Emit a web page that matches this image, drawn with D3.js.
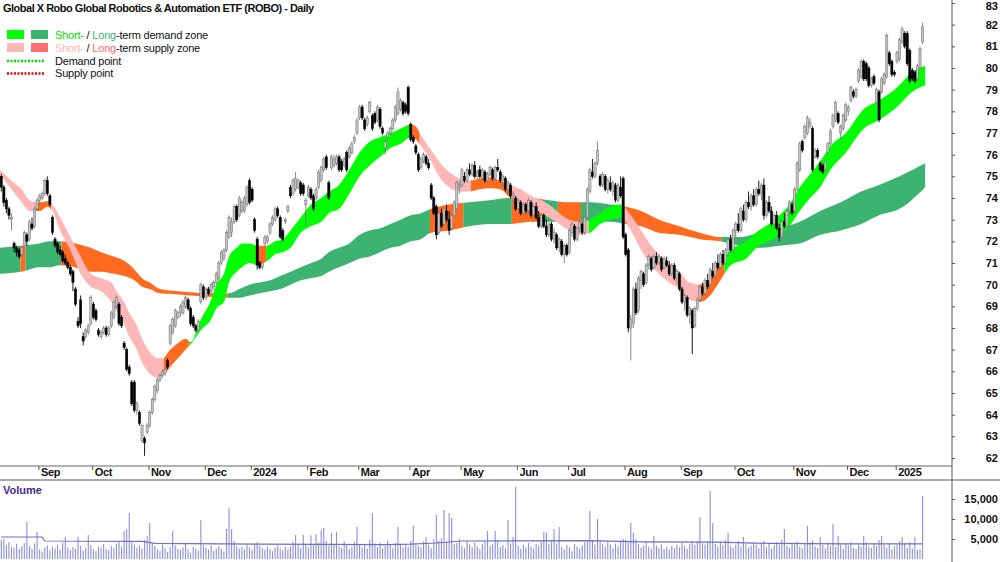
<!DOCTYPE html>
<html>
<head>
<meta charset="utf-8">
<script src="https://cdn.jsdelivr.net/npm/d3@7"></script>
<style>
  body { margin: 0; background: #fff; }
  svg { display: block; }
  text { font-family: "Liberation Sans", Arial, sans-serif; }
</style>
</head>
<body>
<svg id="chart" width="1000" height="562"></svg>
<script>
// ROBO daily candles, Aug 2023 - Jan 2025, one row per session: [open, high, low, close]
const candles = [
  [75.0,75.1,74.3,74.5],[74.5,74.6,73.6,73.8],[73.9,74.0,73.3,73.5],[73.5,73.6,73.0,73.2],[73.0,73.3,72.5,73.1],
  [71.9,72.0,71.5,71.7],[71.7,71.8,71.3,71.5],[71.6,71.7,71.2,71.3],[71.4,71.8,71.3,71.7],[71.8,72.5,71.7,72.4],
  [72.3,72.4,71.8,72.0],[72.1,73.0,72.0,72.9],[72.8,73.1,72.5,72.6],[72.7,73.6,72.6,73.5],[73.5,74.0,73.4,73.9],
  [73.9,74.2,73.7,74.1],[74.0,74.3,73.9,74.2],[74.2,74.9,74.1,74.8],[74.8,75.0,74.1,74.2],[74.1,74.2,73.6,73.7],
  [73.1,73.2,72.3,72.4],[72.1,72.2,71.7,71.8],[71.9,72.0,71.4,71.5],[71.6,71.8,71.3,71.4],[71.5,71.6,71.0,71.1],
  [71.2,71.4,70.9,71.0],[71.0,71.1,70.7,70.8],[70.8,70.9,70.4,70.5],[70.6,70.7,69.7,70.1],[69.8,69.9,69.0,69.1],
  [68.3,68.5,68.0,68.1],[69.3,69.5,68.0,68.2],[67.6,67.8,67.2,67.4],[67.6,68.0,67.5,67.9],[67.8,68.2,67.7,68.1],
  [68.2,69.5,68.1,69.4],[69.1,69.2,68.4,68.5],[68.8,68.9,68.3,68.4],[67.9,68.0,67.6,67.7],[67.6,67.9,67.5,67.8],
  [67.8,68.1,67.7,68.0],[68.0,68.1,67.6,67.7],[67.7,68.1,67.6,68.0],[68.1,68.8,68.0,68.7],[68.5,69.3,68.4,69.2],
  [69.0,69.5,68.9,69.4],[69.1,69.2,68.1,68.2],[68.5,68.6,68.0,68.1],[67.3,67.4,67.0,67.1],[67.0,67.1,66.0,66.1],
  [66.2,66.3,65.8,65.9],[65.5,65.6,64.4,64.5],[65.5,65.6,64.1,64.2],[64.2,64.6,64.0,64.5],[64.1,64.2,63.5,63.6],
  [62.8,63.6,62.7,63.5],[62.9,63.0,62.1,62.7],[63.2,63.6,63.1,63.5],[63.5,64.2,63.4,64.1],[64.1,64.8,64.0,64.7],
  [64.7,65.4,64.6,65.3],[65.1,65.7,65.0,65.6],[65.6,65.9,65.5,65.8],[65.8,66.1,65.7,66.0],[65.9,66.2,65.8,66.1],
  [66.5,66.6,66.1,66.2],[67.3,68.2,67.2,68.1],[67.8,68.5,67.7,68.4],[68.1,68.9,68.0,68.8],[68.5,68.8,68.4,68.7],
  [68.7,69.1,68.5,69.0],[68.7,69.3,68.6,69.2],[69.0,69.5,68.9,69.4],[69.3,69.4,68.8,68.9],[68.9,69.0,68.1,68.2],
  [68.5,68.6,68.0,68.1],[68.1,68.2,67.8,67.9],[67.9,68.4,67.8,68.3],[69.2,70.1,69.1,70.0],[69.9,70.0,69.3,69.4],
  [69.4,69.9,69.3,69.8],[69.8,69.9,69.5,69.6],[69.7,70.1,69.6,70.0],[69.9,70.2,69.8,70.1],[70.1,70.6,70.0,70.5],
  [70.3,71.1,70.2,71.0],[71.0,71.6,70.9,71.5],[71.2,71.7,71.1,71.6],[71.6,72.5,71.5,72.4],[72.2,73.2,72.1,73.1],
  [72.4,73.1,72.2,72.9],[72.9,73.7,72.8,73.6],[73.6,73.7,72.9,73.0],[73.2,74.1,73.1,74.0],[73.4,73.9,73.3,73.8],
  [73.4,74.1,73.3,74.0],[73.7,74.6,73.6,74.5],[74.8,74.9,73.7,73.8],[74.4,74.5,73.8,73.9],[73.0,73.1,72.4,72.5],
  [72.1,72.2,70.7,70.9],[71.0,71.1,70.7,70.8],[70.8,71.1,70.7,71.0],[71.9,72.3,71.8,72.2],[72.0,72.3,71.9,72.2],
  [72.4,72.9,72.3,72.8],[72.8,73.2,72.7,73.1],[73.0,73.6,72.9,73.5],[73.5,73.6,73.1,73.2],[73.1,73.2,72.1,72.2],
  [72.5,72.6,72.0,72.1],[72.9,73.1,72.8,73.0],[73.4,73.7,73.3,73.6],[74.5,74.6,74.0,74.1],[74.2,74.9,74.1,74.8],
  [74.4,75.2,74.3,74.9],[74.5,74.9,74.4,74.8],[74.7,74.8,74.1,74.2],[74.6,74.7,74.1,74.2],[73.7,74.0,72.7,73.9],
  [74.1,74.6,74.0,74.5],[74.4,74.5,73.9,74.0],[74.1,74.2,73.4,73.5],[74.0,74.5,73.9,74.4],[74.5,75.3,74.4,75.2],
  [74.8,75.5,74.7,75.4],[75.3,75.9,75.2,75.8],[75.9,76.0,75.3,75.4],[74.7,74.8,73.9,74.0],[75.4,76.0,75.3,75.9],
  [75.5,76.0,75.4,75.8],[75.6,76.0,75.5,75.9],[75.9,76.0,75.2,75.3],[75.7,75.8,75.2,75.3],[75.5,75.9,75.4,75.8],
  [76.1,76.2,75.2,75.3],[75.9,76.4,75.8,76.3],[76.1,76.6,76.0,76.5],[76.6,76.9,76.5,76.8],[77.0,77.7,76.9,77.6],
  [77.7,78.3,77.6,78.2],[78.2,78.3,77.6,77.7],[77.6,77.7,77.1,77.2],[77.4,77.8,77.3,77.7],[78.0,78.5,77.9,78.4],
  [77.8,77.9,77.1,77.2],[77.9,78.0,77.4,77.5],[77.6,78.3,77.5,78.2],[78.1,78.2,77.2,77.3],[77.2,77.3,76.9,77.0],
  [76.3,76.7,76.0,76.6],[76.8,77.1,76.7,77.0],[77.0,77.3,76.9,77.2],[77.2,77.7,77.1,77.6],[77.6,78.3,77.5,78.2],
  [77.9,79.1,77.8,78.9],[78.1,78.6,78.0,78.5],[78.4,78.5,77.8,77.9],[78.3,78.4,77.9,78.0],[79.1,79.2,77.8,77.9],
  [77.4,77.5,76.6,76.7],[76.8,76.9,76.5,76.6],[76.4,76.5,76.0,76.1],[76.0,76.1,75.2,75.3],[75.4,75.9,75.3,75.8],
  [75.7,76.1,75.6,76.0],[75.9,76.0,75.5,75.6],[75.6,75.8,75.3,75.4],[74.6,74.7,73.9,74.0],[74.0,74.1,73.2,73.3],
  [73.6,73.7,72.1,72.3],[72.4,73.4,72.3,73.3],[73.3,73.5,72.6,72.7],[72.8,73.6,72.7,73.5],[73.4,73.7,72.9,73.0],
  [73.0,73.4,72.3,72.5],[72.6,73.3,72.5,73.2],[73.2,73.9,73.1,73.8],[73.5,74.8,73.4,74.7],[74.5,74.8,74.2,74.6],
  [74.6,75.4,74.5,75.3],[75.0,75.2,74.7,74.8],[74.8,75.4,74.7,75.3],[75.3,75.6,75.0,75.1],[75.1,75.6,75.0,75.5],
  [75.5,75.7,74.9,75.0],[75.0,75.3,74.8,75.2],[75.3,75.5,74.9,75.0],[74.9,75.4,74.8,75.3],[75.2,75.3,74.7,74.8],
  [74.8,75.2,74.6,75.1],[75.1,75.5,75.0,75.4],[75.3,75.4,74.8,74.9],[74.9,75.5,74.8,75.4],[75.4,75.8,75.2,75.3],
  [75.2,75.3,74.7,74.8],[74.8,75.1,74.5,75.0],[74.9,75.0,74.3,74.4],[74.4,74.8,74.2,74.7],[74.6,74.7,74.0,74.1],
  [74.1,74.3,73.8,74.2],[74.0,74.1,73.4,73.5],[73.5,74.0,73.4,73.9],[73.8,73.9,73.2,73.3],[73.3,73.8,73.2,73.7],
  [73.7,73.8,73.3,73.4],[73.4,74.0,73.3,73.9],[73.8,73.9,73.1,73.2],[73.2,73.7,73.1,73.6],[73.6,73.8,73.0,73.1],
  [73.1,73.4,72.6,72.7],[72.7,73.3,72.6,73.2],[73.2,73.3,72.6,72.7],[72.7,73.0,72.2,72.3],[72.3,72.9,72.2,72.8],
  [72.8,72.9,72.0,72.1],[72.1,72.6,71.9,72.4],[72.3,72.4,71.6,71.7],[71.7,72.2,71.5,72.1],[72.0,72.1,71.3,71.4],
  [71.4,71.9,71.0,71.8],[71.8,71.9,71.3,71.4],[71.5,72.6,71.4,72.5],[72.4,72.9,72.2,72.8],[72.7,72.8,72.0,72.1],
  [72.1,72.7,72.0,72.6],[72.6,73.0,72.4,72.9],[72.8,72.9,72.3,72.4],[72.4,73.2,72.3,73.1],[73.1,74.5,73.0,74.4],
  [74.3,75.4,74.2,75.3],[75.2,75.8,74.9,75.0],[75.0,75.7,74.9,75.6],[75.6,76.6,75.5,76.2],[75.0,75.1,74.5,74.6],
  [74.6,75.2,74.5,75.1],[75.0,75.1,74.3,74.4],[74.4,74.9,74.2,74.8],[74.7,75.0,74.3,74.4],[74.3,74.8,74.1,74.7],
  [74.6,74.7,73.8,73.9],[73.9,74.7,73.8,74.6],[74.5,75.0,74.0,74.1],[74.9,75.0,72.1,72.2],[72.3,72.4,71.3,71.4],
  [71.6,71.7,67.8,68.0],[68.0,68.6,66.5,68.4],[68.2,69.9,68.0,69.8],[69.8,70.1,68.6,68.7],[68.8,70.4,68.7,70.3],
  [70.2,70.7,69.8,70.6],[70.5,70.6,69.9,70.0],[70.1,71.0,70.0,70.9],[70.9,71.4,70.7,71.3],[71.2,71.3,70.6,70.7],
  [70.8,71.4,70.7,71.3],[71.3,71.5,70.9,71.0],[71.0,71.4,70.9,71.3],[71.2,71.3,70.6,70.7],[70.8,71.3,70.7,71.2],
  [71.1,71.3,70.8,70.9],[70.9,71.1,70.4,70.5],[70.5,71.0,70.4,70.9],[70.9,71.0,70.2,70.3],[70.3,70.7,70.0,70.6],
  [70.5,70.6,69.7,69.8],[69.8,69.9,69.1,69.2],[69.2,69.6,68.8,69.5],[69.4,69.5,68.5,68.6],[68.6,69.0,68.2,68.9],
  [68.8,68.9,66.8,68.0],[68.1,69.0,68.0,68.9],[68.9,69.4,68.8,69.3],[69.3,70.0,69.2,69.9],[69.9,70.1,69.5,69.6],
  [69.6,70.3,69.5,70.2],[70.2,70.5,69.8,69.9],[70.0,70.8,69.9,70.7],[70.6,71.0,70.3,70.4],[70.4,71.1,70.3,71.0],
  [71.0,71.4,70.7,70.8],[70.8,71.5,70.7,71.4],[71.4,71.6,70.9,71.0],[71.0,71.7,70.9,71.6],[71.6,72.2,71.4,72.1],
  [72.1,72.3,71.5,71.6],[71.6,72.6,71.5,72.5],[72.5,72.9,72.2,72.8],[72.8,73.3,72.4,72.5],[72.5,73.6,72.4,73.5],
  [73.4,73.7,72.9,73.0],[73.0,73.9,72.9,73.8],[73.8,74.3,73.5,73.6],[73.6,74.2,73.4,74.1],[74.1,74.4,73.6,73.7],
  [73.7,74.5,73.6,74.4],[74.4,74.8,74.1,74.2],[74.2,74.7,73.9,74.6],[74.6,74.9,73.0,73.2],[73.2,73.9,73.1,73.8],
  [73.8,74.1,73.3,73.4],[73.4,73.6,72.7,72.8],[72.8,73.3,72.6,73.2],[73.2,73.4,72.5,72.6],[72.6,72.8,72.0,72.2],
  [72.2,73.0,72.1,72.9],[72.9,73.3,72.6,72.7],[72.7,73.5,72.6,73.4],[73.4,73.9,73.2,73.8],[73.7,73.8,73.2,73.3],
  [73.4,74.5,73.3,74.4],[74.4,75.7,74.3,75.6],[75.3,76.6,75.2,76.5],[76.6,76.7,76.1,76.2],[76.8,77.4,76.7,77.3],
  [77.0,77.8,76.9,77.7],[77.3,77.7,77.2,77.5],[77.2,77.3,75.2,75.3],[75.9,76.3,75.8,76.2],[76.2,76.3,75.8,75.9],
  [75.6,75.7,75.2,75.3],[75.5,75.6,75.1,75.2],[75.3,75.8,75.2,75.7],[76.1,76.6,76.0,76.5],[76.5,77.2,76.4,77.1],
  [77.3,77.9,77.2,77.8],[77.6,78.5,77.5,78.4],[77.9,78.0,77.4,77.5],[77.0,77.4,76.7,77.3],[77.2,77.9,77.1,77.8],
  [77.6,78.4,77.5,78.3],[78.0,78.3,77.8,78.2],[78.5,79.2,78.4,79.1],[78.9,79.0,78.6,78.7],[78.7,79.1,78.6,79.0],
  [79.4,80.0,79.3,79.9],[79.6,80.4,79.5,80.3],[80.3,80.4,79.4,79.5],[80.2,80.3,79.4,79.5],[80.0,80.1,79.1,79.2],
  [79.2,79.6,79.1,79.5],[79.6,79.7,79.2,79.3],[78.4,79.1,78.3,79.0],[78.9,79.0,77.5,77.6],[78.9,79.6,78.8,79.5],
  [79.3,79.8,79.2,79.7],[79.6,81.6,79.5,81.5],[80.7,80.8,80.1,80.2],[80.3,80.4,79.6,79.7],[79.8,79.9,79.6,79.7],
  [80.3,80.8,80.2,80.7],[80.4,81.4,80.3,81.3],[81.2,81.9,81.1,81.8],[81.6,81.7,80.9,81.0],[81.6,81.7,80.1,80.2],
  [80.8,80.9,79.3,79.4],[79.9,80.0,79.4,79.5],[79.8,79.9,79.3,79.4],[79.5,80.2,79.4,80.1],[80.0,81.0,79.9,80.9],
  [81.2,82.1,81.1,81.9]
];

// daily volume
const volumes = [
  4800,5000,3500,4200,3000,2800,3800,2500,3200,4000,9250,3300,2600,3900,6800,2400,1800,2900,3400,2200,
  3100,2700,3600,2300,4100,5500,2900,2200,3000,2600,5500,3300,2100,2800,6000,3500,2400,1900,3100,2700,
  3700,2500,2200,3300,2800,3900,4400,3100,7000,7500,11500,4200,3600,2800,3400,2600,4800,5800,9000,3900,
  3300,2400,2000,3600,2700,1800,3000,7000,3400,2500,2200,2900,3800,2400,1600,3100,2600,2100,9750,3500,
  2800,2300,3400,2000,2700,3200,2500,1900,7500,12750,7500,4500,3300,2600,3000,2400,3500,2900,2200,3600,
  4200,3300,2700,2300,3100,2500,2000,2800,3400,2600,2200,3000,2400,3200,4300,6000,3500,2800,6000,3700,
  2900,5900,3400,6200,4100,7200,7800,4500,3300,6500,3800,6800,3200,2700,4400,3600,2500,3100,4200,8000,
  3400,2900,3700,2600,4800,11500,3900,3000,4100,2700,3300,4600,3600,2800,4000,8000,3500,2900,3700,3100,
  4500,8300,3800,3200,2900,4400,5500,3600,2700,4900,11000,4600,5200,12250,4300,11500,10250,3800,4000,5000,
  3300,2700,4400,3600,2900,4100,3100,2500,3800,4400,7000,3200,3700,7000,4600,3000,3500,2800,9750,3900,
  5500,18000,3300,2500,3600,2900,4000,3100,2600,3800,3300,4200,6800,6600,3700,4400,7500,3900,8000,3000,
  2400,3500,2900,2000,3800,3100,2600,3400,4200,4800,12000,4500,3600,10000,4700,3800,3000,4300,3600,2700,
  3900,3200,4600,5000,4800,4200,9000,6600,4900,3800,2900,3400,4300,3100,2600,5800,3400,2800,3700,2500,
  3000,2400,3300,2700,3600,2900,4100,3200,2500,3800,4500,3500,4300,10500,3900,3600,4400,17000,9000,3800,
  3100,4200,3500,4700,6600,3400,2800,3600,4500,3100,5500,3700,2900,3300,4100,3600,2700,3900,4500,3000,
  3800,2600,3400,4200,3600,4800,7500,3300,2900,4000,3600,4400,3100,2700,3700,8300,4100,4600,3200,2800,
  5500,3500,2700,4100,3300,8800,3000,5800,3600,2600,3900,3400,4300,2800,2500,3600,3000,5800,4200,3100,
  2700,3800,3300,4700,5800,3500,2800,4000,2400,3200,3600,4400,5500,3900,2800,4200,2600,5400,2300,2500,
  15750
];

// volume average line, [session index, value]
const volumeAverage = [
  [0,5500],[16,5500],[17,4500],[55,4400],[60,3900],[100,3700],[150,3600],[160,3700],
  [170,4000],[180,4500],[230,4600],[250,4300],[280,4200],[300,3900],[330,3800],[360,3800]
];

// zone bands: [session index, upper price, lower price]
const shortBand = [
  [-0.5,75.3,75.1],[4,74.8,74.4],[8,74.4,73.8],[11,73.9,73.4],[15,73.8,73.4],[18,73.85,73.6],[20,73.7,73.4],
  [23,73.1,72.5],[27,72.2,71.6],[31,71.3,70.5],[35,70.5,69.9],[39,70.3,69.7],[43,70.1,69.2],[45,69.7,68.8],
  [48,69.2,68.2],[50,68.7,67.6],[53,68.1,67.0],[55,67.5,66.4],[58,66.9,65.9],[61,66.6,65.7],[63,66.6,65.8],
  [66,67.0,66.2],[69,67.3,66.6],[72,67.5,67.0],[74,67.35,67.25],[78,68.4,67.9],[82,69.3,68.4],[84,70.0,68.9],
  [87,70.5,69.2],[89,71.3,70.1],[92,71.7,70.6],[94,71.9,70.8],[97,71.9,71.0],[100,71.8,70.9],[104,71.8,71.1],
  [107,72.0,71.4],[110,72.1,71.5],[113,72.5,71.7],[117,73.1,72.4],[121,73.7,72.7],[125,74.0,72.9],[128,74.3,73.3],
  [132,74.6,73.5],[136,75.3,74.2],[140,76.1,75.0],[144,76.6,75.5],[148,76.8,75.9],[152,77.0,76.3],[156,77.2,76.5],
  [160,77.4,76.8],[162,77.3,76.7],[164,76.9,76.4],[168,76.2,75.7],[171,75.7,75.0],[175,75.2,74.5],[179,74.9,74.3],
  [183,74.8,74.3],[187,74.9,74.4],[191,74.95,74.45],[195,74.8,74.4],[199,74.6,74.0],[203,74.4,73.7],[207,74.1,73.4],
  [211,73.9,73.3],[214,73.7,73.1],[218,73.3,72.8],[222,73.0,72.5],[226,72.9,72.3],[230,73.0,72.4],[234,73.3,72.8],
  [238,73.6,73.0],[242,73.7,73.1],[246,73.2,72.5],[250,72.5,71.6],[254,71.8,70.9],[257,71.4,70.5],[261,71.0,70.1],
  [265,70.6,69.8],[269,70.1,69.3],[273,70.0,69.2],[277,70.3,69.5],[281,71.0,70.2],[285,71.6,70.9],[291,72.0,71.2],
  [296,72.5,71.8],[300,72.8,72.0],[304,73.2,72.3],[308,73.7,72.7],[312,74.5,73.4],[316,75.1,74.0],[320,75.7,74.5],
  [324,76.4,75.3],[330,77.0,76.1],[337,78.1,77.2],[343,78.5,77.6],[350,79.1,78.2],[356,79.8,78.9],[361,80.1,79.2]
];
const longBand = [
  [-0.5,71.7,70.5],[8,71.8,70.6],[15,71.9,70.8],[19,72.0,70.8],[23,72.0,70.9],[27,71.95,70.85],[35,71.7,70.6],
  [39,71.5,70.6],[44,71.3,70.5],[48,71.1,70.4],[52,70.7,70.2],[55,70.3,69.9],[58,70.1,69.8],[62,69.8,69.6],
  [69,69.7,69.55],[74,69.65,69.5],[80,69.6,69.45],[89,69.6,69.4],[93,69.8,69.4],[97,70.0,69.5],[101,70.1,69.6],
  [105,70.2,69.7],[109,70.4,69.8],[113,70.6,70.0],[117,70.8,70.2],[121,71.0,70.3],[125,71.2,70.4],[128,71.5,70.6],
  [132,71.7,70.8],[136,71.9,71.0],[140,72.3,71.2],[144,72.5,71.3],[148,72.6,71.5],[152,72.8,71.7],[156,73.0,71.8],
  [160,73.2,72.0],[164,73.3,72.1],[168,73.5,72.4],[175,73.7,72.5],[183,73.8,72.7],[191,73.9,72.8],[199,74.0,72.8],
  [207,74.0,72.9],[214,73.9,72.9],[222,73.8,72.9],[230,73.8,72.9],[238,73.7,72.9],[244,73.6,72.8],[250,73.4,72.7],
  [257,73.0,72.4],[265,72.7,72.3],[273,72.4,72.1],[281,72.2,72.0],[289,72.2,71.8],[296,72.4,71.7],[304,72.6,71.8],
  [312,72.9,71.9],[320,73.4,72.3],[328,73.8,72.5],[336,74.3,72.8],[343,74.6,73.2],[351,75.0,73.5],[361,75.6,74.5]
];

// zone colouring by session range: [from, to, state]
const shortZones = [
  [-1,14,"supply"],[14,20,"turn"],[20,64,"supply"],[64,74,"turn"],[74,100,"demand"],[100,104,"turn"],
  [104,160,"demand"],[160,164,"turn"],[164,184,"supply"],[184,200,"turn"],[200,230,"supply"],[230,244,"demand"],
  [244,273,"supply"],[273,283,"turn"],[283,362,"demand"]
];
const longZones = [
  [-1,8,"demand"],[8,10,"supply"],[10,24,"demand"],[24,89,"supply"],[89,168,"demand"],[168,181,"supply"],
  [181,200,"demand"],[200,212,"supply"],[212,218,"demand"],[218,227,"supply"],[227,244,"demand"],
  [244,282,"supply"],[282,362,"demand"]
];

const priceTicks = [62,63,64,65,66,67,68,69,70,71,72,73,74,75,76,77,78,79,80,81,82,83];
const volumeTicks = [5000,10000,15000];
const monthLabels = ["Sep","Oct","Nov","Dec","2024","Feb","Mar","Apr","May","Jun","Jul","Aug","Sep","Oct","Nov","Dec","2025"];
const monthStarts = [15,36,58,80,98,120,140,160,180,202,222,244,266,287,310,331,350];

const shortColors = { demand: "#00ff00", supply: "#ffb6b6", turn: "#ff6a1f" };
const longColors = { demand: "#3cb371", supply: "#ff6a1f" };

const svg = d3.select("#chart");
const W = 1000, axisX = 952, priceBottom = 466, dateBottom = 480;

const x = d3.scaleLinear().domain([-0.5, 371.5]).range([0, axisX]);
const y = d3.scaleLinear().domain([62, 83]).range([458, 3]);
const yv = d3.scaleLinear().domain([0, 20000]).range([559, 479]);

const defs = svg.append("defs");
defs.append("clipPath").attr("id", "priceClip")
  .append("rect").attr("x", 0).attr("y", 0).attr("width", axisX).attr("height", priceBottom);

const price = svg.append("g").attr("clip-path", "url(#priceClip)");

// bands, each zone is the whole band clipped to its range
function drawBand(rows, zones, colors, name) {
  const area = d3.area()
    .x(d => x(d[0]))
    .y0(d => y(d[2]))
    .y1(d => y(d[1]))
    .curve(d3.curveMonotoneX);
  zones.forEach((z, k) => {
    const id = name + k;
    defs.append("clipPath").attr("id", id)
      .append("rect")
      .attr("x", x(z[0] - 0.5)).attr("y", 0)
      .attr("width", x(z[1] - 0.5) - x(z[0] - 0.5)).attr("height", priceBottom);
    price.append("path")
      .datum(rows)
      .attr("d", area)
      .attr("fill", colors[z[2]])
      .attr("clip-path", "url(#" + id + ")");
  });
}
drawBand(longBand, longZones, longColors, "lz");
drawBand(shortBand, shortZones, shortColors, "sz");

// candles
const candleG = price.append("g");
candleG.selectAll("line")
  .data(candles)
  .enter().append("line")
  .attr("x1", (d, i) => x(i)).attr("x2", (d, i) => x(i))
  .attr("y1", d => y(d[1])).attr("y2", d => y(d[2]))
  .attr("stroke", d => d[3] >= d[0] ? "#7a7a7a" : "#000")
  .attr("stroke-width", 0.9);
candleG.selectAll("rect")
  .data(candles)
  .enter().append("rect")
  .attr("x", (d, i) => x(i) - 1.1)
  .attr("width", 2.2)
  .attr("y", d => y(Math.max(d[0], d[3])))
  .attr("height", d => Math.max(1, Math.abs(y(d[0]) - y(d[3]))))
  .attr("fill", d => d[3] >= d[0] ? "#c4c4c4" : "#000")
  .attr("stroke", d => d[3] >= d[0] ? "#6e6e6e" : "#000")
  .attr("stroke-width", 0.5);

// volume
svg.append("g").selectAll("rect")
  .data(volumes)
  .enter().append("rect")
  .attr("x", (d, i) => x(i) - 0.55)
  .attr("width", 1.1)
  .attr("y", d => yv(d))
  .attr("height", d => yv(0) - yv(d))
  .attr("fill", "#8f8fd6");

svg.append("path")
  .datum(volumeAverage)
  .attr("d", d3.line().x(d => x(d[0])).y(d => yv(d[1])))
  .attr("fill", "none")
  .attr("stroke", "#6f6fc4")
  .attr("stroke-width", 1.2);

// frame lines
svg.append("line").attr("x1", 0).attr("x2", axisX).attr("y1", priceBottom).attr("y2", priceBottom)
  .attr("stroke", "#666").attr("stroke-width", 1);
svg.append("line").attr("x1", 0).attr("x2", W).attr("y1", dateBottom).attr("y2", dateBottom)
  .attr("stroke", "#555").attr("stroke-width", 1.2);
svg.append("line").attr("x1", axisX).attr("x2", axisX).attr("y1", 0).attr("y2", 562)
  .attr("stroke", "#555").attr("stroke-width", 1);

// price axis
const yAxis = svg.append("g")
  .attr("transform", "translate(" + axisX + ",0)")
  .call(d3.axisRight(y).tickValues(priceTicks).tickSize(3).tickFormat(d3.format("d")));
yAxis.select(".domain").remove();

const vAxis = svg.append("g")
  .attr("transform", "translate(" + axisX + ",0)")
  .call(d3.axisRight(yv).tickValues(volumeTicks).tickSize(3).tickFormat(d3.format(",")));
vAxis.select(".domain").remove();

[yAxis, vAxis].forEach(g => {
  g.selectAll(".tick line").attr("stroke", "#555");
  g.selectAll(".tick text")
    .attr("x", W - 2 - axisX)
    .attr("text-anchor", "end")
    .attr("font-family", "Liberation Sans, Arial, sans-serif")
    .attr("font-size", 11)
    .attr("font-weight", "bold")
    .attr("fill", "#111");
});
// top label would sit on the edge, nudge it inside
yAxis.selectAll(".tick text").filter(d => d === 83).attr("dy", "0.62em");

// month axis
const xAxis = svg.append("g")
  .attr("transform", "translate(0," + priceBottom + ")")
  .call(d3.axisBottom(x)
    .tickValues(monthStarts.map(i => i - 0.5))
    .tickSize(4)
    .tickFormat((d, k) => monthLabels[k]));
xAxis.select(".domain").remove();
xAxis.selectAll(".tick line").attr("stroke", "#555");
xAxis.selectAll(".tick text")
  .attr("x", 2).attr("y", 2).attr("dy", "0.71em")
  .attr("text-anchor", "start")
  .attr("font-family", "Liberation Sans, Arial, sans-serif")
  .attr("font-size", 11)
  .attr("font-weight", "bold")
  .attr("letter-spacing", "-0.3px")
  .attr("fill", "#111");

// title and legend
svg.append("text").attr("x", 3).attr("y", 12)
  .attr("font-size", 11).attr("font-weight", "bold").attr("fill", "#111")
  .attr("letter-spacing", "-0.5px")
  .text("Global X Robo Global Robotics & Automation ETF (ROBO) - Daily");

svg.append("text").attr("x", 3).attr("y", 494)
  .attr("font-size", 11).attr("font-weight", "bold").attr("fill", "#4b2a8c")
  .text("Volume");

const legend = svg.append("g");
const swatches = [
  [30, "#00ff00"], [30, "#3cb371"], [43, "#ffb6b6"], [43, "#ff7070"]
];
swatches.forEach((s, k) => {
  legend.append("rect")
    .attr("x", k % 2 === 0 ? 7 : 31).attr("y", s[0])
    .attr("width", 17).attr("height", 9)
    .attr("fill", s[1]);
});

const rows = [
  { y: 38.5, parts: [["Short-", "#00e000"], [" / ", "#111"], ["Long", "#3cb371"], ["-term demand zone", "#111"]] },
  { y: 51.5, parts: [["Short-", "#ffb6b6"], [" / ", "#111"], ["Long", "#ff6a6a"], ["-term supply zone", "#111"]] },
  { y: 64.5, parts: [["Demand point", "#111"]] },
  { y: 77, parts: [["Supply point", "#111"]] }
];
rows.forEach(r => {
  const t = legend.append("text").attr("x", 55).attr("y", r.y)
    .attr("font-size", 11).attr("letter-spacing", "-0.2px");
  r.parts.forEach(p => t.append("tspan").attr("fill", p[1]).text(p[0]));
});

legend.append("line").attr("x1", 7).attr("x2", 45).attr("y1", 61).attr("y2", 61)
  .attr("stroke", "#00dd00").attr("stroke-width", 2.5).attr("stroke-dasharray", "2,1.5");
legend.append("line").attr("x1", 7).attr("x2", 45).attr("y1", 73.5).attr("y2", 73.5)
  .attr("stroke", "#ee0000").attr("stroke-width", 2.5).attr("stroke-dasharray", "2,1.5");
</script>
</body>
</html>
